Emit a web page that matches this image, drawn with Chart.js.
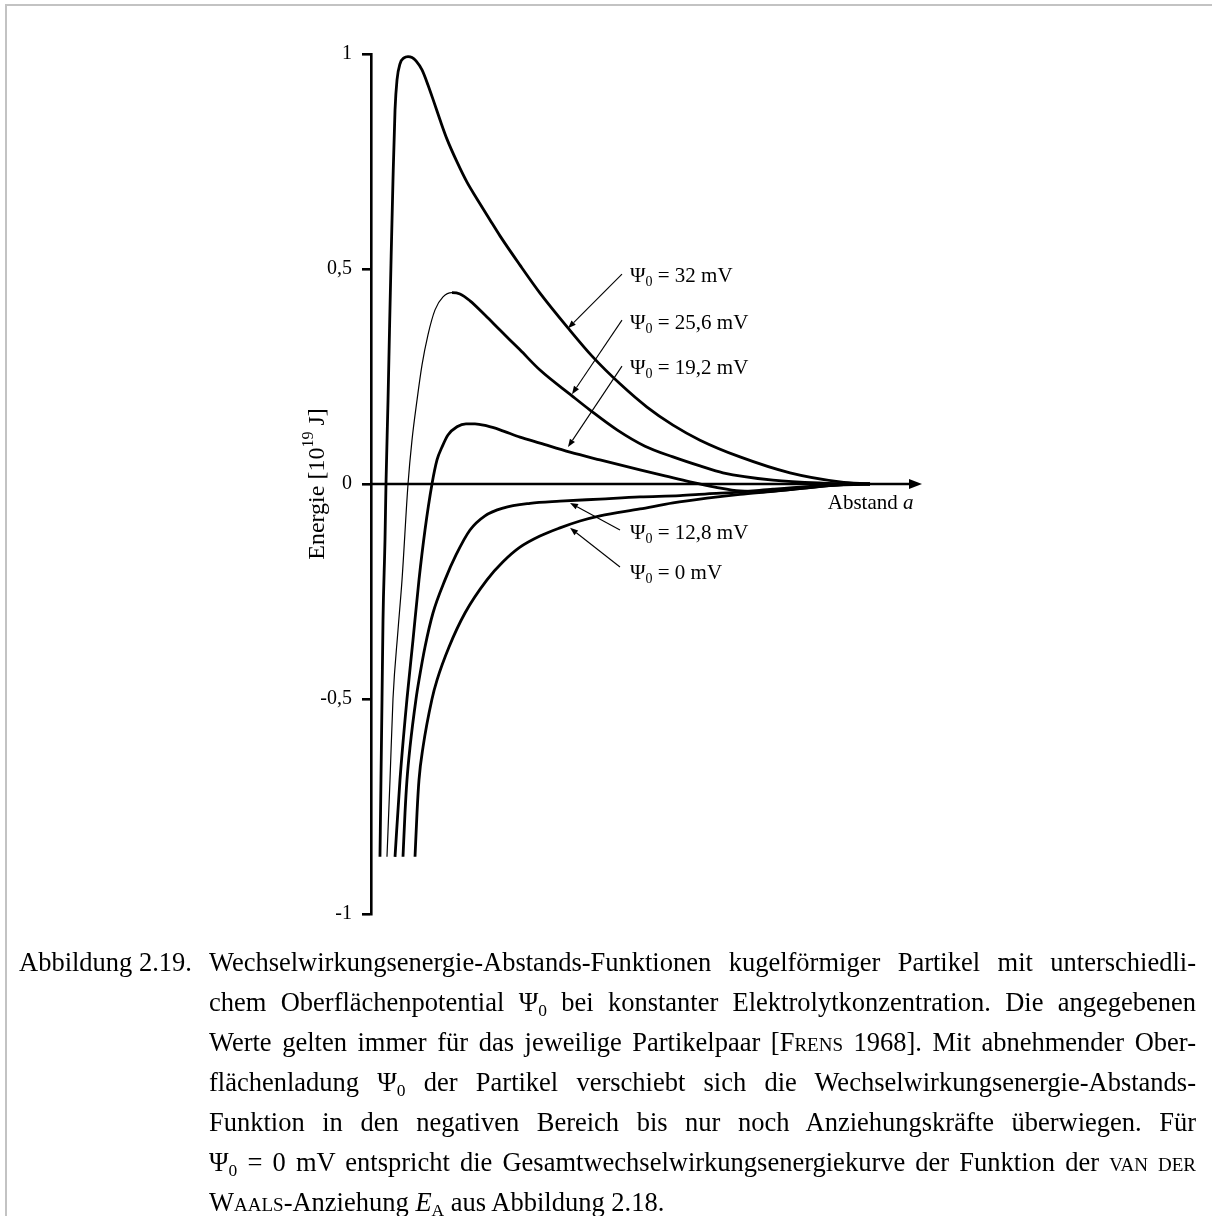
<!DOCTYPE html>
<html lang="de">
<head>
<meta charset="utf-8">
<title>Abbildung 2.19</title>
<script src="https://cdn.jsdelivr.net/npm/chart.js@4.4.1/dist/chart.umd.min.js"></script>
<style>
  body { margin: 0; background: #fff; }
  #page { position: relative; width: 1212px; height: 1216px; overflow: hidden; }
  #frame { position: absolute; left: 5px; top: 4px; width: 1300px; height: 1300px;
           border-left: 2px solid #c3c3c3; border-top: 2px solid #c3c3c3; }
  #chartBox { position: absolute; left: 0; top: 0; width: 1212px; height: 1216px; }
  .caption { position: absolute; top: 942px; font-family: 'Liberation Serif', 'Times New Roman', serif;
             font-size: 26.5px; line-height: 40px; color: #000; }
  #figLabel { left: 19px; }
  #figText { left: 209px; width: 987px; }
  #figText div { text-align: justify; text-align-last: justify; }
  #figText div.last { text-align-last: left; }
  .sc { font-variant: small-caps; }
  sub { font-size: 0.66em; vertical-align: -0.28em; line-height: 0; }
</style>
</head>
<body>
<div id="page">
  <div id="frame"></div>
  <div id="chartBox"><canvas id="energyChart"></canvas></div>
  <div class="caption" id="figLabel">Abbildung 2.19.</div>
  <div class="caption" id="figText">
    <div>Wechselwirkungsenergie-Abstands-Funktionen kugelförmiger Partikel mit unterschiedli-</div>
    <div>chem Oberflächenpotential Ψ<sub>0</sub> bei konstanter Elektrolytkonzentration. Die angegebenen</div>
    <div>Werte gelten immer für das jeweilige Partikelpaar [F<span class="sc">rens</span> 1968]. Mit abnehmender Ober-</div>
    <div>flächenladung Ψ<sub>0</sub> der Partikel verschiebt sich die Wechselwirkungsenergie-Abstands-</div>
    <div>Funktion in den negativen Bereich bis nur noch Anziehungskräfte überwiegen. Für</div>
    <div>Ψ<sub>0</sub> = 0 mV entspricht die Gesamtwechselwirkungsenergiekurve der Funktion der <span class="sc">van der</span></div>
    <div class="last">W<span class="sc">aals</span>-Anziehung <i>E</i><sub>A</sub> aus Abbildung 2.18.</div>
  </div>
</div>
<script>
// Oberflächenpotentiale (Beschriftung der Kurven)
const potentials = ['32', '25,6', '19,2', '12,8', '0'];

// Abstand a (willkürliche Einheiten) und Energie [10^19 J]
const dist32 = [0.163, 0.181, 0.200, 0.218, 0.254, 0.272, 0.309, 0.336, 0.363, 0.399, 0.436, 0.472, 0.526, 0.599, 0.672, 0.744, 0.817, 0.926, 1.034, 1.143, 1.252, 1.379, 1.561, 1.742, 1.924, 2.160, 2.341, 2.704, 3.067, 3.575, 4.029, 4.519, 5.009, 5.481, 5.971, 6.697, 7.604, 8.512, 9.056];
const energy32 = [-0.867, -0.688, -0.500, -0.316, -0.130, 0, 0.195, 0.358, 0.514, 0.707, 0.870, 0.940, 0.977, 0.991, 0.994, 0.992, 0.984, 0.963, 0.928, 0.888, 0.847, 0.802, 0.749, 0.702, 0.663, 0.614, 0.577, 0.509, 0.444, 0.363, 0.295, 0.233, 0.179, 0.137, 0.102, 0.063, 0.026, 0.005, 0];

const dist256 = [0.290, 0.345, 0.399, 0.490, 0.563, 0.672, 0.744, 0.835, 0.926, 1.034, 1.162, 1.307, 1.470, 1.615, 1.797, 2.069, 2.341, 2.704, 3.067, 3.648, 3.975, 4.465, 4.973, 5.481, 5.971, 6.388, 7.296, 8.203, 8.875];
const energy256 = [-0.867, -0.688, -0.500, -0.340, -0.223, 0, 0.102, 0.195, 0.277, 0.347, 0.405, 0.435, 0.445, 0.442, 0.426, 0.393, 0.358, 0.312, 0.265, 0.205, 0.172, 0.126, 0.088, 0.063, 0.042, 0.026, 0.009, 0.002, 0];

const dist192 = [0.436, 0.526, 0.653, 0.762, 0.871, 0.980, 1.107, 1.198, 1.289, 1.397, 1.561, 1.724, 1.887, 2.105, 2.341, 2.704, 3.067, 3.612, 4.156, 4.882, 5.336, 5.790, 6.243, 6.697, 7.151, 7.604, 8.058, 8.512, 9.056];
const energy192 = [-0.867, -0.688, -0.500, -0.363, -0.223, -0.107, 0, 0.056, 0.086, 0.114, 0.133, 0.140, 0.140, 0.135, 0.126, 0.109, 0.095, 0.074, 0.056, 0.033, 0.019, 0.005, -0.007, -0.016, -0.017, -0.013, -0.007, -0.002, 0];

const dist128 = [0.581, 0.617, 0.653, 0.708, 0.817, 0.871, 0.980, 1.125, 1.343, 1.543, 1.797, 2.069, 2.396, 2.886, 3.430, 4.156, 4.882, 5.608, 6.098, 6.697, 7.296, 7.895, 8.512, 9.056];
const energy128 = [-0.867, -0.765, -0.688, -0.612, -0.500, -0.456, -0.379, -0.300, -0.223, -0.165, -0.107, -0.074, -0.056, -0.045, -0.040, -0.035, -0.030, -0.027, -0.023, -0.019, -0.012, -0.006, -0.002, 0];

const dist0 = [0.799, 0.835, 0.871, 0.944, 1.107, 1.198, 1.416, 1.706, 2.105, 2.396, 2.704, 3.067, 3.430, 3.793, 4.156, 4.882, 5.481, 6.098, 6.697, 7.296, 7.913, 8.512, 9.056];
const energy0 = [-0.867, -0.765, -0.688, -0.612, -0.500, -0.456, -0.379, -0.300, -0.223, -0.181, -0.147, -0.121, -0.102, -0.086, -0.074, -0.058, -0.044, -0.033, -0.024, -0.017, -0.009, -0.002, 0];

// Achsen
const yTickValues = [-1, -0.5, 0, 0.5, 1];
const xMax = 10;

// Lage der Beschriftungen (Textanfang) und Pfeile (von -> Spitze), in Datenkoordinaten
const labelAnchors = [[4.70, 0.486], [4.70, 0.377], [4.70, 0.272], [4.70, -0.112], [4.70, -0.205]];
const arrowFrom = [[4.555, 0.488], [4.555, 0.381], [4.555, 0.274], [4.519, -0.107], [4.519, -0.193]];
const arrowTo = [[3.575, 0.362], [3.648, 0.209], [3.575, 0.086], [3.612, -0.044], [3.612, -0.102]];
const axisLabelAnchor = [8.29, -0.042];

const FONT = '"Liberation Serif", "Times New Roman", serif';

function toPoints(xs, ys) {
    return xs.map((a, i) => ({ x: a, y: ys[i] }));
}

// Index des Maximums der 25,6-mV-Kurve: der ansteigende Ast ist dünn gezeichnet
const peak256 = energy256.indexOf(Math.max(...energy256));

const curveSets = [
    { data: toPoints(dist32, energy32) },
    { data: toPoints(dist256, energy256),
      segment: { borderWidth: ctx => ctx.p0DataIndex < peak256 ? 1.2 : 2.8 } },
    { data: toPoints(dist192, energy192) },
    { data: toPoints(dist128, energy128) },
    { data: toPoints(dist0, energy0) }
];

// Pfeil mit gefüllter Spitze
function drawArrow(ctx, x1, y1, x2, y2, lineWidth, headLen, headHalf) {
    const ang = Math.atan2(y2 - y1, x2 - x1);
    const bx = x2 - headLen * Math.cos(ang);
    const by = y2 - headLen * Math.sin(ang);
    ctx.lineWidth = lineWidth;
    ctx.beginPath();
    ctx.moveTo(x1, y1);
    ctx.lineTo(bx, by);
    ctx.stroke();
    ctx.beginPath();
    ctx.moveTo(x2, y2);
    ctx.lineTo(bx + headHalf * Math.sin(ang), by - headHalf * Math.cos(ang));
    ctx.lineTo(bx - headHalf * Math.sin(ang), by + headHalf * Math.cos(ang));
    ctx.closePath();
    ctx.fill();
}

// "Ψ0 = ... mV" mit tiefgestellter 0
function drawPsiLabel(ctx, px, py, value) {
    const base = py + 7;
    ctx.textAlign = 'left';
    ctx.textBaseline = 'alphabetic';
    ctx.font = '21px ' + FONT;
    ctx.fillText('Ψ', px, base);
    const w1 = ctx.measureText('Ψ').width;
    ctx.font = '14px ' + FONT;
    ctx.fillText('0', px + w1, base + 4);
    const w2 = ctx.measureText('0').width;
    ctx.font = '21px ' + FONT;
    ctx.fillText(' = ' + value + ' mV', px + w1 + w2, base);
}

const decorations = {
    id: 'decorations',
    beforeDatasetsDraw(chart) {
        const { ctx, chartArea, scales: { x, y } } = chart;
        const y0 = y.getPixelForValue(0);
        ctx.save();
        ctx.strokeStyle = '#000';
        ctx.fillStyle = '#000';
        drawArrow(ctx, chartArea.left, y0, x.getPixelForValue(xMax), y0, 2.6, 13, 5);
        ctx.restore();
    },
    afterDatasetsDraw(chart) {
        const { ctx, chartArea, scales: { x, y } } = chart;
        ctx.save();
        ctx.strokeStyle = '#000';
        ctx.fillStyle = '#000';

        // Beschriftungen mit Pfeilen
        potentials.forEach((p, i) => {
            drawArrow(ctx,
                x.getPixelForValue(arrowFrom[i][0]), y.getPixelForValue(arrowFrom[i][1]),
                x.getPixelForValue(arrowTo[i][0]), y.getPixelForValue(arrowTo[i][1]),
                1.1, 8, 3);
            drawPsiLabel(ctx, x.getPixelForValue(labelAnchors[i][0]), y.getPixelForValue(labelAnchors[i][1]), p);
        });

        // "Abstand a"
        const ax = x.getPixelForValue(axisLabelAnchor[0]);
        const ay = y.getPixelForValue(axisLabelAnchor[1]) + 7;
        ctx.font = '21px ' + FONT;
        ctx.fillText('Abstand ', ax, ay);
        const wA = ctx.measureText('Abstand ').width;
        ctx.font = 'italic 21px ' + FONT;
        ctx.fillText('a', ax + wA, ay);

        // y-Achsentitel mit Hochzahl
        const parts = [['Energie [10', '24px', 0], ['19', '16px', -9], [' J]', '24px', 0]];
        ctx.translate(chartArea.left - 53, y.getPixelForValue(0));
        ctx.rotate(-Math.PI / 2);
        let total = 0;
        parts.forEach(([t, s]) => { ctx.font = s + ' ' + FONT; total += ctx.measureText(t).width; });
        let cx = -total / 2;
        ctx.textBaseline = 'middle';
        parts.forEach(([t, s, dy]) => {
            ctx.font = s + ' ' + FONT;
            ctx.fillText(t, cx, dy);
            cx += ctx.measureText(t).width;
        });
        ctx.restore();
    }
};

const chart = new Chart(document.getElementById('energyChart'), {
    type: 'line',
    data: {
        datasets: curveSets.map(c => Object.assign({
            borderColor: '#000',
            borderWidth: 2.8,
            pointRadius: 0,
            fill: false,
            cubicInterpolationMode: 'monotone',
            clip: false
        }, c))
    },
    options: {
        responsive: true,
        maintainAspectRatio: false,
        animation: false,
        devicePixelRatio: 1,
        layout: { padding: { left: 0, top: 54, right: 290, bottom: 302 } },
        plugins: { legend: { display: false }, tooltip: { enabled: false } },
        scales: {
            x: { type: 'linear', min: 0, max: xMax, display: false },
            y: {
                type: 'linear',
                min: -1,
                max: 1,
                afterFit: scale => { scale.width = 371; },
                afterBuildTicks: scale => { scale.ticks = yTickValues.map(v => ({ value: v })); },
                border: { display: true, color: '#000', width: 2.6 },
                grid: { drawOnChartArea: false, drawTicks: true, tickLength: 9, color: '#000', lineWidth: 2.6 },
                ticks: {
                    color: '#000',
                    padding: 10,
                    font: { family: FONT, size: 20 },
                    callback: v => String(v).replace('.', ',')
                }
            }
        }
    },
    plugins: [decorations]
});
</script>
</body>
</html>
